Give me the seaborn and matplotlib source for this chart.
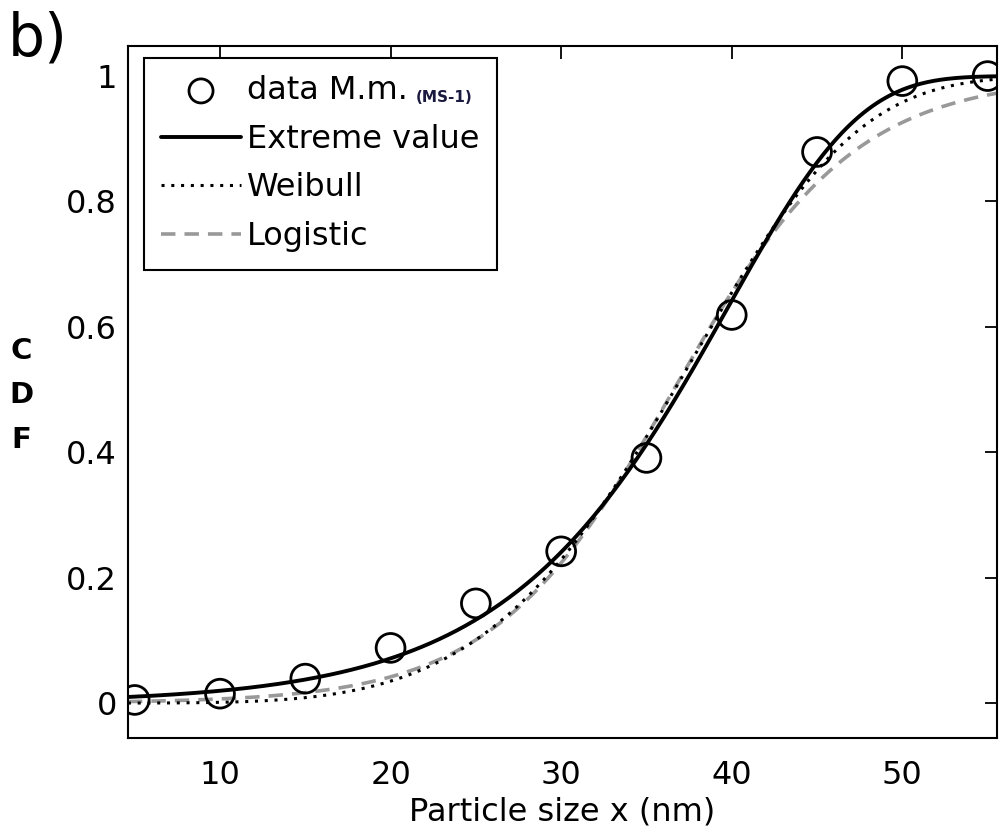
import numpy as np
import pandas as pd
import matplotlib
matplotlib.use("Agg")
import matplotlib.pyplot as plt
import seaborn as sns

# Measured cumulative fractions
size_nm = [5, 10, 15, 20, 25, 30, 35, 40, 45, 50, 55]
cdf_data = [0.005, 0.015, 0.039, 0.088, 0.159, 0.242, 0.391, 0.619, 0.879, 0.992, 1.0]

# Fitted distribution parameters
ev_mu, ev_sigma = 39.8, 7.6          # extreme value (minimum) CDF
wb_scale, wb_shape = 39.5, 4.9       # Weibull CDF
lg_mu, lg_s = 36.6, 5.3              # logistic CDF

x_min, x_max = 4.6, 55.55
y_min, y_max = -0.056, 1.048
x_ticks = [10, 20, 30, 40, 50]
y_ticks = [0, 0.2, 0.4, 0.6, 0.8, 1]
y_tick_labels = ["0", "0.2", "0.4", "0.6", "0.8", "1"]

sns.set_theme(style="white")
plt.rcParams["font.family"] = ["DejaVu Sans"]
plt.rcParams["text.color"] = "black"
plt.rcParams["axes.labelcolor"] = "black"

xs = np.linspace(x_min, x_max, 400)
curves = pd.DataFrame({
    "x": xs,
    "ev": 1 - np.exp(-np.exp((xs - ev_mu) / ev_sigma)),
    "wb": 1 - np.exp(-(xs / wb_scale) ** wb_shape),
    "lg": 1 / (1 + np.exp(-(xs - lg_mu) / lg_s)),
})
points = pd.DataFrame({"x": size_nm, "y": cdf_data})

fig = plt.figure(figsize=(9.99, 8.36), dpi=100)
ax = fig.add_axes([0.128, 0.117, 0.870, 0.828])

sns.scatterplot(data=points, x="x", y="y", ax=ax, marker="o", s=430,
                facecolors="none", edgecolors="black", linewidths=2.0,
                label="data M.m.", zorder=5)
sns.lineplot(data=curves, x="x", y="ev", ax=ax, color="black", lw=2.8,
             label="Extreme value", zorder=4)
sns.lineplot(data=curves, x="x", y="wb", ax=ax, color="black", lw=2.2,
             linestyle=(0, (1, 2.2)), label="Weibull", zorder=3)
sns.lineplot(data=curves, x="x", y="lg", ax=ax, color="#999999", lw=2.6,
             linestyle=(0, (4, 2.5)), label="Logistic", zorder=2)

ax.set_xlim(x_min, x_max)
ax.set_ylim(y_min, y_max)
ax.set_xticks(x_ticks)
ax.set_yticks(y_ticks)
ax.set_yticklabels(y_tick_labels)
ax.tick_params(axis="both", which="both", direction="in", length=9, width=1.3,
               top=True, right=True, labelsize=23, colors="black",
               labelcolor="black")
ax.tick_params(axis="x", pad=16)
ax.tick_params(axis="y", pad=8)
for sp in ax.spines.values():
    sp.set_linewidth(1.5)
    sp.set_color("black")
ax.set_xlabel("Particle size x (nm)", fontsize=23, labelpad=4, color="black")
ax.set_ylabel("")

leg = ax.legend(loc="upper left", bbox_to_anchor=(0.018, 0.983), fontsize=23,
                frameon=True, fancybox=False, edgecolor="black", framealpha=1,
                handlelength=2.5, handletextpad=0.2, labelspacing=0.55,
                borderpad=0.55, borderaxespad=0)
leg.get_frame().set_linewidth(1.5)
leg.legend_handles[0].set_sizes([300])
for t in leg.get_texts():
    t.set_color("black")

# small run identifier after the first legend entry
fig.canvas.draw()
bb = leg.get_texts()[0].get_window_extent()
fig.text((bb.x1 + 8) / fig.bbox.width, (bb.y0 + 0.3 * bb.height) / fig.bbox.height,
         "(MS-1)", fontsize=11, fontweight="bold", color="#1a1a40",
         ha="left", va="center")

# stacked axis label
fig.text(0.021, 0.527, "C\nD\nF", fontsize=21, fontweight="bold", ha="center",
         va="center", linespacing=1.75, color="black")
fig.text(0.008, 0.988, "b)", fontsize=42, ha="left", va="top", color="black")

fig.savefig("out.png", dpi=100)
